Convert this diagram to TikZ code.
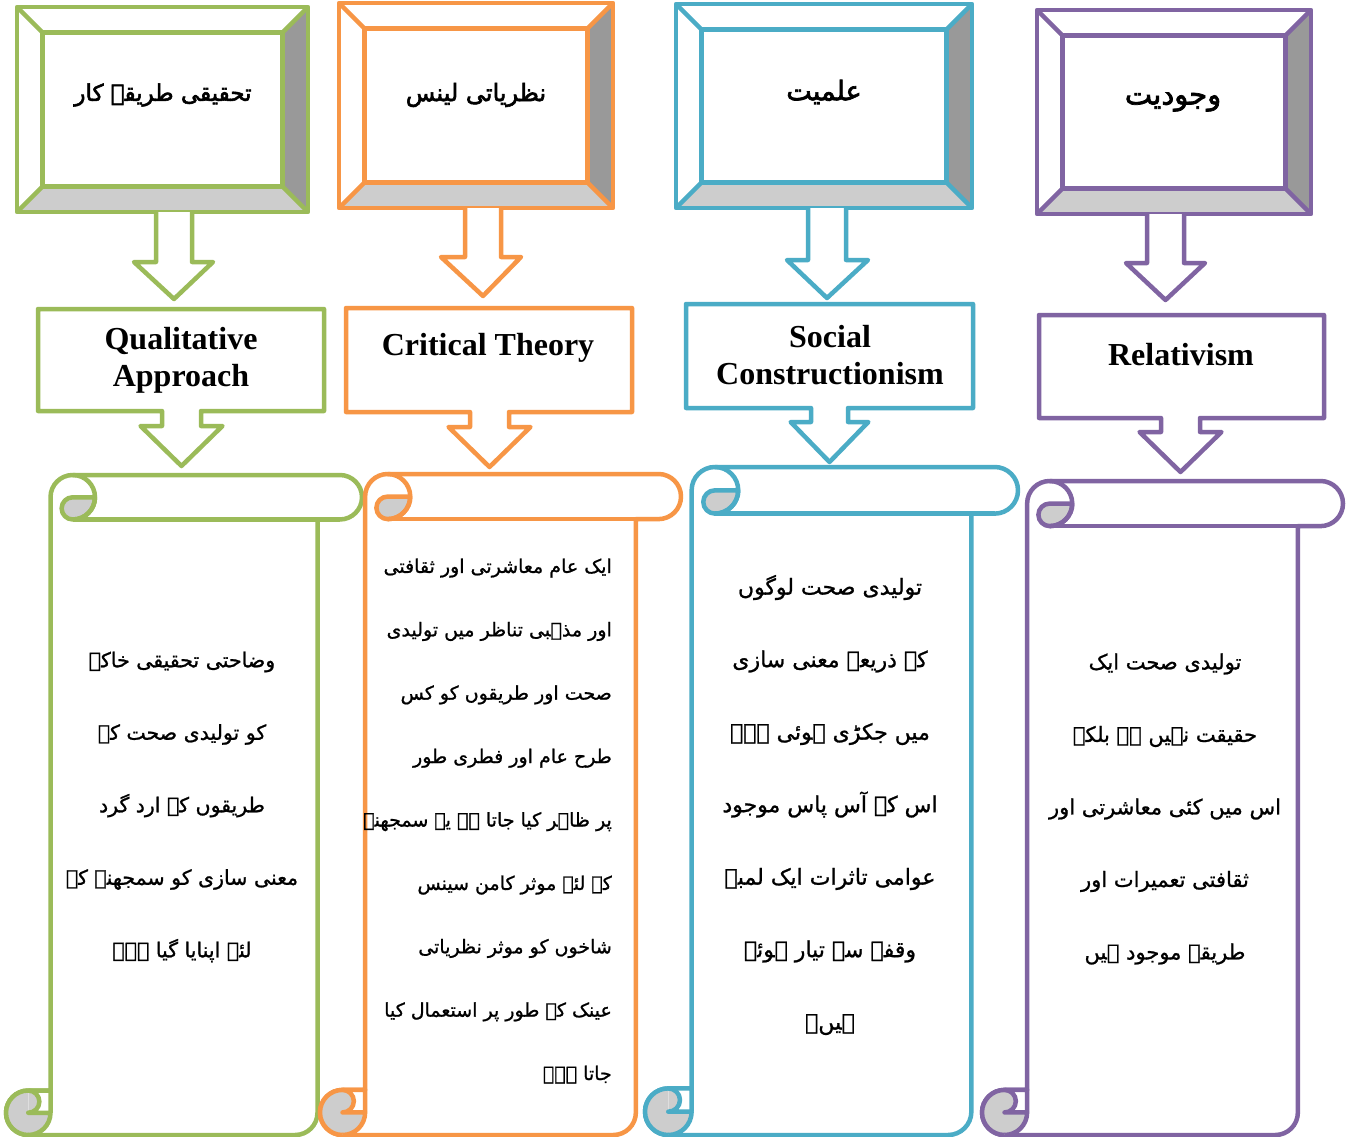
\documentclass[tikz,border=0pt]{standalone}
\usepackage{fontspec}
\setmainfont{Liberation Serif}
\newfontfamily\urdu[Script=Arabic,FakeBold=1]{DejaVu Sans}
\newfontfamily\urdub[Script=Arabic,FakeBold=2.5]{DejaVu Sans}
\TeXXeTstate=1
\definecolor{cgreen}{HTML}{9BBB59}
\definecolor{corange}{HTML}{F79646}
\definecolor{cblue}{HTML}{4BACC6}
\definecolor{cpurple}{HTML}{8064A2}
\definecolor{gdark}{HTML}{999999}
\definecolor{glight}{HTML}{CDCDCD}

% bevel box: x0 y0 x1 y1 colour
\newcommand\bevelbox[5]{%
  \pgfmathsetmacro\bd{0.125*min(#3-#1,#4-#2)}%
  \pgfmathsetmacro\bix{#1+\bd}\pgfmathsetmacro\biy{#2+\bd}%
  \pgfmathsetmacro\bjx{#3-\bd}\pgfmathsetmacro\bjy{#4-\bd}%
  \fill[white] (#1,#2) rectangle (#3,#4);
  \fill[gdark] (#3,#2) -- (#3,#4) -- (\bjx,\bjy) -- (\bjx,\biy) -- cycle;
  \fill[glight] (#1,#4) -- (#3,#4) -- (\bjx,\bjy) -- (\bix,\bjy) -- cycle;
  \begin{scope}[shapeline=#5]
    \draw (#1,#2) rectangle (#3,#4);
    \draw (\bix,\biy) rectangle (\bjx,\bjy);
    \draw (#1,#2) -- (\bix,\biy) (#3,#2) -- (\bjx,\biy)
          (#3,#4) -- (\bjx,\bjy) (#1,#4) -- (\bix,\bjy);
  \end{scope}
}
% hollow down arrow: colour, shaftL, shaftR, ytop, yshaft, headL, headR, ytip
\newcommand\hollowarrow[8]{%
  \draw[shapeline=#1, fill=white] (#2,#4) -- (#2,#5) -- (#6,#5)
     -- ({(#2+#3)/2},#8) -- (#7,#5) -- (#3,#5) -- (#3,#4);
}
% callout box with arrow: colour, x0, y0, x1, y1, shaftL, shaftR, yshaft, ytip
\newcommand\callout[9]{%
  \pgfmathsetmacro\hw{#7-#6}%
  \draw[shapeline=#1, fill=white] (#2,#3) -- (#4,#3) -- (#4,#5) -- (#7,#5)
     -- (#7,#8) -- ({#7+0.55*\hw},#8) -- ({(#6+#7)/2},#9)
     -- ({#6-0.55*\hw},#8) -- (#6,#8) -- (#6,#5) -- (#2,#5) -- cycle;
}
% scroll: l t r b colour
\newcommand\scrollshape[5]{%
  \pgfmathsetmacro\sch{0.125*(#3-#1)}%
  \pgfmathsetmacro\shh{\sch/2}%
  \pgfmathsetmacro\shq{\sch/4}%
  \pgfmathsetmacro\sxA{#1+\sch}%
  \pgfmathsetmacro\sxC{#1+\sch+\shh}%
  \pgfmathsetmacro\sxF{#3-\sch}%
  \pgfmathsetmacro\sxG{#3-\shh}%
  \pgfmathsetmacro\sxL{#1+\shh}%
  \pgfmathsetmacro\syA{#2+\shh}%
  \pgfmathsetmacro\syB{#2+\sch}%
  \pgfmathsetmacro\syC{#4-\sch}%
  \pgfmathsetmacro\syD{#4-\shh}%
  \begin{scope}[shapeline=#5]
    \filldraw[fill=white] (\sxC,#2) -- (\sxG,#2)
      arc[start angle=270,end angle=450,radius=\shh] -- (\sxF,\syB) -- (\sxF,\syD)
      arc[start angle=0,end angle=90,radius=\shh] -- (\sxL,#4)
      arc[start angle=90,end angle=270,radius=\shh] -- (\sxA,\syC) -- (\sxA,\syA)
      arc[start angle=180,end angle=270,radius=\shh] -- cycle;
    % bottom curl
    \fill[glight] (\sxL,\syD) circle[radius=\shh];
    \fill[white] (\sxL,\syC) rectangle (\sxA,\syD);
    \fill[glight] (\sxL,\syC) arc[start angle=270,end angle=450,radius=\shq] -- cycle;
    \draw (\sxL,#4) arc[start angle=90,end angle=270,radius=\shh] -- (\sxA,\syC) -- (\sxA,\syD);
    \draw (\sxL,\syC) arc[start angle=270,end angle=450,radius=\shq] -- (\sxA,\syD)
      arc[start angle=0,end angle=90,radius=\shh];
    % top curl
    \filldraw[fill=glight] (\sxC,\syA) arc[start angle=270,end angle=90,radius=\shq]
      arc[start angle=90,end angle=0,radius=\shh] -- cycle;
    \draw (\sxC,#2) arc[start angle=270,end angle=450,radius=\shh];
    \draw (\sxC,\syB) -- (\sxG,\syB);
  \end{scope}
}

\tikzset{
  shapeline/.style={draw=#1, line width=4.5pt, line join=round},
  headtext/.style={font=\urdub\fontsize{#1}{36}\selectfont, inner sep=0pt},
  labeltext/.style={font=\bfseries\fontsize{32}{37}\selectfont, align=center, inner sep=0pt},
  bodytext/.style={font=\urdu\fontsize{#1}{72.5}\selectfont, align=center, inner sep=0pt},
}

\begin{document}
\begin{tikzpicture}[x=1pt,y=-1pt]
\fill[white] (0,0) rectangle (1350,1137);
\useasboundingbox (0,0) rectangle (1350,1137);

% ---------- bevel boxes ----------
\bevelbox{17}{7}{308}{212}{cgreen}
\bevelbox{339}{3}{613}{208}{corange}
\bevelbox{676}{4}{972}{208}{cblue}
\bevelbox{1037}{10}{1311}{214}{cpurple}

\node[headtext=23] (h1) at (163,95) {\beginR تحقیقی طریقہ کار\endR};
\node[headtext=24] (h2) at (476,95) {\beginR نظریاتی لینس\endR};
\node[headtext=27] (h3) at (824,92) {\beginR علمیت\endR};
\node[headtext=29] (h4) at (1173,102) {\beginR وجودیت\endR};

% ---------- top arrows ----------
\hollowarrow{cgreen}{156}{192}{212}{262}{134}{213}{299}
\hollowarrow{corange}{465}{501}{208}{257}{441}{521}{296}
\hollowarrow{cblue}{808}{846}{208}{260}{787}{868}{298}
\hollowarrow{cpurple}{1147}{1184}{214}{263}{1126}{1205}{300}

% ---------- callout boxes ----------
\callout{cgreen}{38}{309}{324}{411}{162}{201}{426}{466}
\callout{corange}{346}{308}{632}{412}{470}{509}{427}{467}
\callout{cblue}{686}{304}{973}{408}{811}{848}{422}{462}
\callout{cpurple}{1039}{315}{1324}{418}{1161}{1200}{432}{472}

\node[labeltext] (q1) at (181,360) {Qualitative\\Approach};
\node[labeltext] (q2) at (488,348) {Critical Theory};
\node[labeltext] (q3) at (830,355) {Social\\Constructionism};
\node[labeltext] (q4) at (1181,355) {Relativism};

% ---------- scrolls ----------
\scrollshape{6}{475}{362}{1135}{cgreen}
\scrollshape{320}{474}{681}{1135}{corange}
\scrollshape{645}{467}{1018}{1135}{cblue}
\scrollshape{982}{481}{1343}{1135}{cpurple}

\node[bodytext=20.5] (s1) at (182,807) {%
\beginR وضاحتی تحقیقی خاکے\endR\\
\beginR کو تولیدی صحت کے\endR\\
\beginR طریقوں کے ارد گرد\endR\\
\beginR معنی سازی کو سمجھنے کے\endR\\
\beginR لئے اپنایا گیا ہے۔\endR};

\node[bodytext=19, align=right, anchor=east, font=\urdu\fontsize{19}{63.4}\selectfont] (s2) at (612,821) {%
\beginR ایک عام معاشرتی اور ثقافتی\endR\\
\beginR اور مذہبی تناظر میں تولیدی\endR\\
\beginR صحت اور طریقوں کو کس\endR\\
\beginR طرح عام اور فطری طور\endR\\
\beginR پر ظاہر کیا جاتا ہے یہ سمجھنے\endR\\
\beginR کے لئے موثر کامن سینس\endR\\
\beginR شاخوں کو موثر نظریاتی\endR\\
\beginR عینک کے طور پر استعمال کیا\endR\\
\beginR جاتا ہے۔\endR};

\node[bodytext=22] (s3) at (830,805) {%
\beginR تولیدی صحت لوگوں\endR\\
\beginR کے ذریعہ معنی سازی\endR\\
\beginR میں جکڑی ہوئی ہے۔\endR\\
\beginR اس کے آس پاس موجود\endR\\
\beginR عوامی تاثرات ایک لمبے\endR\\
\beginR وقفے سے تیار ہوئے\endR\\
\beginR ہیں۔\endR};

\node[bodytext=21] (s4) at (1165,809) {%
\beginR تولیدی صحت ایک\endR\\
\beginR حقیقت نہیں ہے بلکہ\endR\\
\beginR اس میں کئی معاشرتی اور\endR\\
\beginR ثقافتی تعمیرات اور\endR\\
\beginR طریقے موجود ہیں\endR};
\end{tikzpicture}
\end{document}
